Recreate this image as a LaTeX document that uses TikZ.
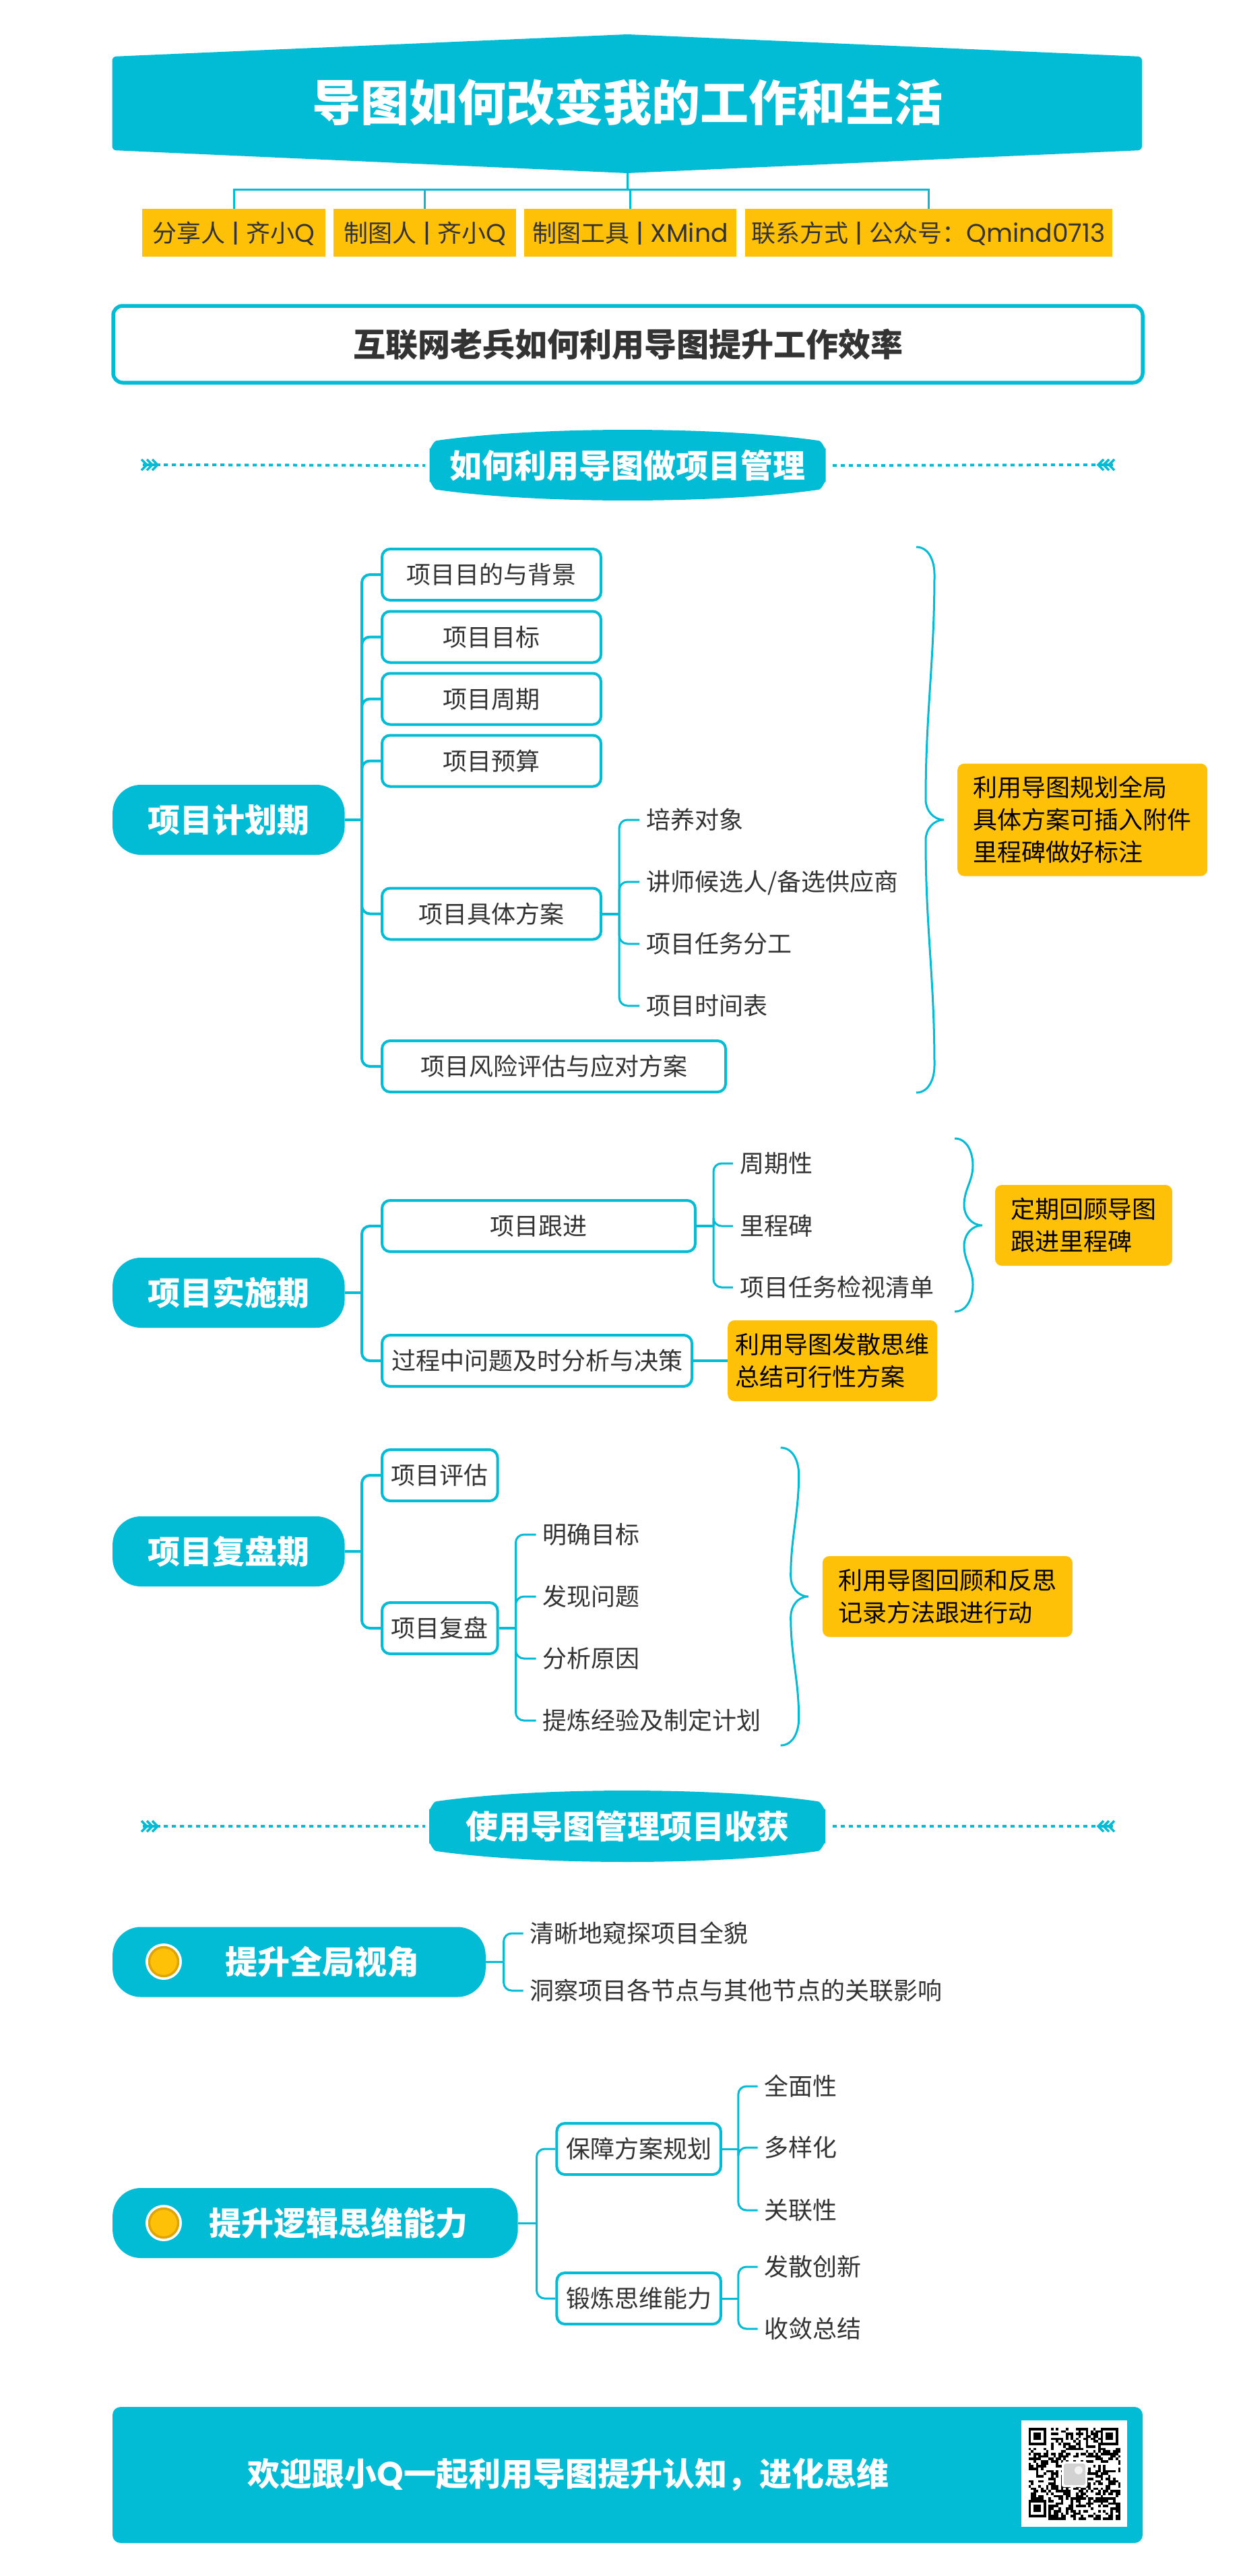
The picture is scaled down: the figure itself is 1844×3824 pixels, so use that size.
\documentclass[tikz,border=0pt]{standalone}
\usepackage{fontspec}
\setmainfont{Noto Sans CJK SC}
\newfontfamily\latinf[Scale=1.05]{Poppins}
\newcommand{\lat}[1]{{\latinf #1}}
\usetikzlibrary{positioning}
\definecolor{tealc}{RGB}{2,188,214}
\definecolor{amberc}{RGB}{255,193,7}
\definecolor{amberd}{RGB}{222,165,8}
\definecolor{inkc}{RGB}{51,51,51}
\tikzset{
  txt/.style={font=\fontsize{36}{48}\selectfont,text=inkc,text height=31.7pt,text depth=4.3pt},
  big/.style={font=\fontsize{48}{60}\selectfont\bfseries,text height=42.2pt,text depth=5.8pt},
  boxn/.style={txt,draw=tealc,line width=4pt,rounded corners=12pt,fill=white,minimum height=76pt,inner xsep=5pt,anchor=west},
  leaf/.style={txt,inner xsep=10pt,inner ysep=0pt,anchor=west},
  pill/.style={fill=tealc,rounded corners=42pt,minimum height=104pt,anchor=west,inner sep=0pt},
  notebox/.style={fill=amberc,rounded corners=10pt,anchor=west,align=left,inner ysep=0pt,font=\fontsize{36}{48}\selectfont,text=black},
  tag/.style={txt,fill=amberc,minimum height=71pt,inner sep=0pt},
  branch/.style={draw=tealc,line width=4pt,rounded corners=12pt},
  twig/.style={draw=tealc,line width=3pt,rounded corners=12pt},
  dotline/.style={draw=tealc,line width=4pt,dash pattern=on 6pt off 6pt},
  chev/.style={draw=tealc,line width=3.5pt},
  curly/.style={draw=tealc,line width=3pt},
}
% curly bracket: left x, top y, tip y, bottom y, inner offset
\newcommand{\curlybr}[5]{%
  \draw[curly] (#1,#2) to[out=0,in=90] ({#1+27},{#2+40})
    to[out=-90,in=90] ({#1+#5},{#3-30}) to[out=-90,in=180] ({#1+41},#3)
    to[out=180,in=90] ({#1+#5},{#3+30}) to[out=-90,in=90] ({#1+27},{#4-40})
    to[out=-90,in=0] (#1,#4);}
\begin{document}
\begin{tikzpicture}[x=1pt,y=-1pt]
  \useasboundingbox (0,0) rectangle (1844,3824);

  % title
  \fill[tealc,rounded corners=6pt] (931,51) -- (1695,84) -- (1695,223) -- (931,257) -- (166.5,223) -- (166.5,84) -- cycle;
  \node[font=\fontsize{72}{80}\selectfont\bfseries,text=white] (title) at (931,152) {导图如何改变我的工作和生活};
  \coordinate (ttip) at (931,257);
  \coordinate (thub) at (931,282);
  \node[tag,minimum width=272.5pt] (t1) at (347,345.5) {分享人\lat{ | }齐小\lat{Q}};
  \node[tag,minimum width=271.5pt] (t2) at (630.7,345.5) {制图人\lat{ | }齐小\lat{Q}};
  \node[tag,minimum width=314.5pt] (t3) at (935.7,345.5) {制图工具\lat{ | XMind}};
  \node[tag,minimum width=545pt] (t4) at (1378,345.5) {联系方式\lat{ | }公众号：\lat{Qmind0713}};
  \draw[twig,rounded corners=0pt] (ttip) -- (thub);
  \foreach \n in {t1,t2,t3,t4}
    \draw[twig,rounded corners=0pt] (thub) -| (\n.north);

  \node[draw=tealc,line width=5.5pt,rounded corners=14pt,minimum width=1528pt,minimum height=114pt,inner sep=0pt,
    font=\fontsize{48}{60}\selectfont\bfseries,text=inkc] (sub) at (932,511) {互联网老兵如何利用导图提升工作效率};

  % section bands
  \fill[tealc] (637.7,665) to[out=-90,in=180] (648.7,654) .. controls (798,632.7) and (1065,632.7) .. (1214.5,654)
    to[out=0,in=-90] (1225.5,665) -- (1225.5,716) to[out=90,in=0] (1214.5,727)
    .. controls (1065,748.3) and (798,748.3) .. (648.7,727) to[out=180,in=90] (637.7,716) -- cycle;
  \node[big,text=white,minimum width=588pt,inner sep=0pt] (sa) at (931.6,691) {如何利用导图做项目管理};
  \fill[tealc] (637.2,2685) to[out=-90,in=180] (648,2674) .. controls (798,2652.7) and (1064,2652.7) .. (1213.5,2674)
    to[out=0,in=-90] (1224.8,2685) -- (1224.8,2737) to[out=90,in=0] (1213.5,2748)
    .. controls (1064,2769.3) and (798,2769.3) .. (648,2748) to[out=180,in=90] (637.2,2737) -- cycle;
  \node[big,text=white,minimum width=588pt,inner sep=0pt] (sb) at (931,2711) {使用导图管理项目收获};
  \foreach \n/\y in {sa/690,sb/2711}{
    \coordinate (\n l) at (243,\y);
    \coordinate (\n r) at (1626,\y);
    \draw[dotline,shorten >=6pt] (\n l) -- (\n.west);
    \draw[dotline,shorten >=6pt] (\n r) -- (\n.east);
    \draw[chev] (212,\y) -- (238,\y);
    \draw[chev] (1630,\y) -- (1652,\y);
    \foreach \d in {0,8,16}{
      \draw[chev] (210+\d,\y-8) -- (218+\d,\y) -- (210+\d,\y+8);
      \draw[chev] (1638+\d,\y-8) -- (1630+\d,\y) -- (1638+\d,\y+8);
    }
  }

  % plan
  \node[pill,big,text=white,minimum width=344.5pt] (p1) at (166.9,1217) {项目计划期};
  \coordinate (h1) at (537,1217);
  \node[boxn,minimum width=325pt] (b1) at (565,853) {项目目的与背景};
  \node[boxn,minimum width=325pt] (b2) at (565,945.5) {项目目标};
  \node[boxn,minimum width=325pt] (b3) at (565,1037.5) {项目周期};
  \node[boxn,minimum width=325pt] (b4) at (565,1129.5) {项目预算};
  \node[boxn,minimum width=325pt] (b5) at (565,1356.5) {项目具体方案};
  \node[boxn,minimum width=510pt] (b6) at (565,1583) {项目风险评估与应对方案};
  \draw[branch] (p1.east) -- (h1);
  \foreach \n in {b1,b2,b3,b4,b5,b6}
    \draw[branch] (h1) |- (\n.west);
  \coordinate (h5) at (919.2,1356.5);
  \node[leaf] (l1) at (949,1217) {培养对象};
  \node[leaf] (l2) at (949,1309) {讲师候选人/备选供应商};
  \node[leaf] (l3) at (949,1401) {项目任务分工};
  \node[leaf] (l4) at (949,1493) {项目时间表};
  \draw[branch] (b5.east) -- (h5);
  \foreach \n in {l1,l2,l3,l4}
    \draw[twig] (h5) |- (\n.west);
  \curlybr{1360}{812}{1217}{1622}{14}
  \node[notebox,inner xsep=23.5pt,minimum height=167pt] (n1) at (1421,1217) {利用导图规划全局\\具体方案可插入附件\\里程碑做好标注};

  % doing
  \node[pill,big,text=white,minimum width=344.5pt] (p2) at (166.9,1919) {项目实施期};
  \coordinate (h2) at (537,1919);
  \node[boxn,minimum width=465pt] (c1) at (565,1820) {项目跟进};
  \node[boxn,minimum width=460pt] (c2) at (565,2020) {过程中问题及时分析与决策};
  \draw[branch] (p2.east) -- (h2);
  \foreach \n in {c1,c2}
    \draw[branch] (h2) |- (\n.west);
  \coordinate (h6) at (1059,1820);
  \node[leaf] (m1) at (1088,1727) {周期性};
  \node[leaf] (m2) at (1088,1820) {里程碑};
  \node[leaf] (m3) at (1088,1911) {项目任务检视清单};
  \draw[branch] (c1.east) -- (h6);
  \foreach \n in {m1,m2,m3}
    \draw[twig] (h6) |- (\n.west);
  \curlybr{1417}{1690}{1819}{1947}{14}
  \node[notebox,inner xsep=23.5pt,minimum height=120pt] (n2) at (1476.8,1819) {定期回顾导图\\跟进里程碑};
  \node[notebox,inner xsep=11.5pt,minimum height=120pt] (n3) at (1080,2020) {利用导图发散思维\\总结可行性方案};
  \draw[branch] (c2.east) -- (n3.west);

  % review
  \node[pill,big,text=white,minimum width=344.5pt] (p3) at (166.9,2303) {项目复盘期};
  \coordinate (h3) at (537,2303);
  \node[boxn,minimum width=171.6pt] (d1) at (565,2190) {项目评估};
  \node[boxn,minimum width=171.6pt] (d2) at (565,2417) {项目复盘};
  \draw[branch] (p3.east) -- (h3);
  \foreach \n in {d1,d2}
    \draw[branch] (h3) |- (\n.west);
  \coordinate (h7) at (765.5,2417);
  \node[leaf] (r1) at (795.5,2278) {明确目标};
  \node[leaf] (r2) at (795.5,2370) {发现问题};
  \node[leaf] (r3) at (795.5,2462) {分析原因};
  \node[leaf] (r4) at (795.5,2554) {提炼经验及制定计划};
  \draw[branch] (d2.east) -- (h7);
  \foreach \n in {r1,r2,r3,r4}
    \draw[twig] (h7) |- (\n.west);
  \curlybr{1158.7}{2149}{2370}{2591}{15}
  \node[notebox,inner xsep=23.5pt,minimum height=120pt] (n4) at (1220.7,2370) {利用导图回顾和反思\\记录方法跟进行动};

  % gains
  \node[pill,minimum width=553.7pt] (p4) at (166.9,2912.5) {};
  \node[big,text=white,inner sep=0pt] (p4t) at (478,2912) {提升全局视角};
  \coordinate (h4) at (747.6,2912.5);
  \node[leaf] (g1) at (776.5,2870) {清晰地窥探项目全貌};
  \node[leaf] (g2) at (776.5,2955) {洞察项目各节点与其他节点的关联影响};
  \draw[twig] (p4.east) -- (h4);
  \foreach \n in {g1,g2}
    \draw[twig] (h4) |- (\n.west);

  \node[pill,minimum width=601.6pt] (p5) at (166.9,3300) {};
  \node[big,text=white,inner sep=0pt] (p5t) at (502,3300) {提升逻辑思维能力};
  \coordinate (h8) at (796.5,3300);
  \node[boxn,minimum width=243.5pt] (e1) at (824.4,3190) {保障方案规划};
  \node[boxn,minimum width=243.5pt] (e2) at (824.4,3412) {锻炼思维能力};
  \draw[twig] (p5.east) -- (h8);
  \foreach \n in {e1,e2}
    \draw[twig] (h8) |- (\n.west);
  \coordinate (h9) at (1095.8,3190);
  \coordinate (h10) at (1095.8,3412);
  \node[leaf] (f1) at (1124.7,3097) {全面性};
  \node[leaf] (f2) at (1124.7,3188) {多样化};
  \node[leaf] (f3) at (1124.7,3281) {关联性};
  \node[leaf] (f4) at (1124.7,3365) {发散创新};
  \node[leaf] (f5) at (1124.7,3457) {收敛总结};
  \draw[twig] (e1.east) -- (h9);
  \draw[twig] (e2.east) -- (h10);
  \foreach \n in {f1,f2,f3}
    \draw[twig] (h9) |- (\n.west);
  \foreach \n in {f4,f5}
    \draw[twig] (h10) |- (\n.west);

  % dots on the pills
  \foreach \n/\y in {da/2912,db/3300}{
    \node[circle,fill=white,minimum size=54pt,inner sep=0pt] (\n) at (243,\y) {};
    \node[circle,fill=amberc,draw=amberd,line width=3.5pt,minimum size=43pt,inner sep=0pt] (\n i) at (243,\y) {};
  }

  % footer
  \node[fill=tealc,rounded corners=12pt,minimum width=1529pt,minimum height=202pt,inner sep=0pt] (foot) at (931.5,3674) {};
  \node[big,text=white,inner sep=0pt] (footq) at (843.4,3672) {欢迎跟小\lat{Q}一起利用导图提升认知，进化思维};

  % qr code
  \fill[white] (1516,3593) rectangle (1673,3751);
  \pgfmathsetseed{713}
  \foreach \i in {0,...,36}
    \foreach \j in {0,...,36}{
      \pgfmathparse{rnd>0.52?1:0}
      \ifnum\pgfmathresult=1
        \fill[black] (1526.7+3.69*\i,3604+3.69*\j) rectangle +(3.69,3.69);
      \fi
    }
  \foreach \x/\y in {0/0,29/0,0/29}{
    \fill[white] (1526.7+3.69*\x-3.69*0,3604+3.69*\y) rectangle +(29.6,29.6);
    \fill[black] (1526.7+3.69*\x,3604+3.69*\y) rectangle +(25.8,25.8);
    \fill[white] (1530.4+3.69*\x,3607.7+3.69*\y) rectangle +(18.4,18.4);
    \fill[black] (1534.1+3.69*\x,3611.4+3.69*\y) rectangle +(11,11);
  }
  \fill[white,rounded corners=3pt] (1576,3654) rectangle (1614,3692);
  \fill[gray!35,rounded corners=3pt] (1579,3657) rectangle (1611,3689);
  \fill[gray!10] (1601,3667) circle (6pt);
\end{tikzpicture}
\end{document}
